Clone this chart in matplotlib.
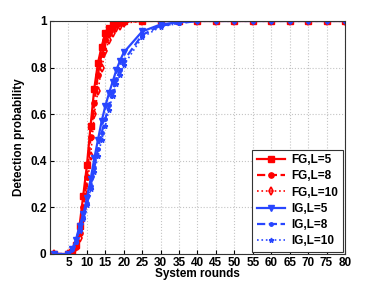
import numpy as np
import matplotlib
matplotlib.use('Agg')
import matplotlib.pyplot as plt

plt.rcParams['font.family'] = ['Liberation Sans', 'DejaVu Sans']
plt.rcParams['font.weight'] = 'bold'

rounds = [1, 5, 6, 7, 8, 9, 10, 11, 12, 13, 14, 15, 16, 17, 18, 19, 20,
          25, 30, 35, 40, 45, 50, 55, 60, 65, 70, 75, 80]

fg_l5 = [0, 0, 0.01, 0.04, 0.12, 0.25, 0.38, 0.55, 0.71, 0.82, 0.89, 0.95, 0.97, 0.985, 0.99, 0.995, 1.0,
         1, 1, 1, 1, 1, 1, 1, 1, 1, 1, 1, 1]
fg_l8 = [0, 0, 0.01, 0.03, 0.09, 0.2, 0.33, 0.5, 0.65, 0.77, 0.86, 0.92, 0.95, 0.97, 0.985, 0.99, 0.995,
         1, 1, 1, 1, 1, 1, 1, 1, 1, 1, 1, 1]
fg_l10 = [0, 0, 0.01, 0.03, 0.07, 0.15, 0.28, 0.42, 0.6, 0.7, 0.8, 0.87, 0.92, 0.95, 0.97, 0.98, 0.99,
          1, 1, 1, 1, 1, 1, 1, 1, 1, 1, 1, 1]
ig_l5 = [0, 0, 0.02, 0.06, 0.12, 0.17, 0.24, 0.32, 0.41, 0.49, 0.57, 0.635, 0.69, 0.74, 0.79, 0.83, 0.865,
         0.955, 0.985, 0.995, 1, 1, 1, 1, 1, 1, 1, 1, 1]
ig_l8 = [0, 0, 0.02, 0.05, 0.11, 0.16, 0.22, 0.29, 0.37, 0.45, 0.52, 0.58, 0.64, 0.7, 0.75, 0.79, 0.83,
         0.94, 0.98, 0.99, 1, 1, 1, 1, 1, 1, 1, 1, 1]
ig_l10 = [0, 0, 0.02, 0.05, 0.1, 0.15, 0.21, 0.28, 0.35, 0.42, 0.49, 0.55, 0.62, 0.68, 0.73, 0.77, 0.81,
          0.93, 0.975, 0.99, 1, 1, 1, 1, 1, 1, 1, 1, 1]

red = '#ff0000'
blue = '#2846ff'

fig = plt.figure(figsize=(3.82, 2.87), dpi=100)
ax = fig.add_axes([0.131, 0.115, 0.772, 0.812])

ax.plot(rounds, fg_l5, '-s', color=red, lw=1.6, ms=3.8, label='FG,L=5')
ax.plot(rounds, fg_l8, '--o', color=red, lw=1.6, ms=3.8, label='FG,L=8')
ax.plot(rounds, fg_l10, ':d', color=red, lw=1.2, ms=3.8, mfc='none', mew=1.2, label='FG,L=10')
ax.plot(rounds, ig_l5, '-v', color=blue, lw=1.6, ms=4.2, label='IG,L=5')
ax.plot(rounds, ig_l8, '--.', color=blue, lw=1.6, ms=5, label='IG,L=8')
ax.plot(rounds, ig_l10, ':*', color=blue, lw=1.2, ms=3.5, label='IG,L=10')

ax.set_xlim(0, 80)
ax.set_ylim(0, 1)
ax.set_xticks(np.arange(5, 81, 5))
ax.set_yticks([0, 0.2, 0.4, 0.6, 0.8, 1])
ax.set_yticklabels(['0', '0.2', '0.4', '0.6', '0.8', '1'])
ax.tick_params(direction='in', labelsize=8.5, length=3, pad=2.5)
for lab in ax.get_xticklabels() + ax.get_yticklabels():
    lab.set_fontweight('bold')
ax.grid(True, linestyle=':', color='#c4c4c4', lw=0.8)
for s in ax.spines.values():
    s.set_color('#333333')
    s.set_linewidth(0.8)

ax.set_xlabel('System rounds', fontsize=8.5, fontweight='bold', labelpad=-1)
ax.set_ylabel('Detection probability', fontsize=8.5, fontweight='bold', labelpad=4)

leg = ax.legend(loc='lower right', prop={'weight': 'bold', 'size': 8.5},
                fancybox=False, edgecolor='#333333', framealpha=1,
                borderaxespad=0.2, handlelength=2.4, labelspacing=0.35, borderpad=0.4,
                handletextpad=0.5)
leg.get_frame().set_linewidth(0.8)

fig.savefig('out.png', dpi=100)
